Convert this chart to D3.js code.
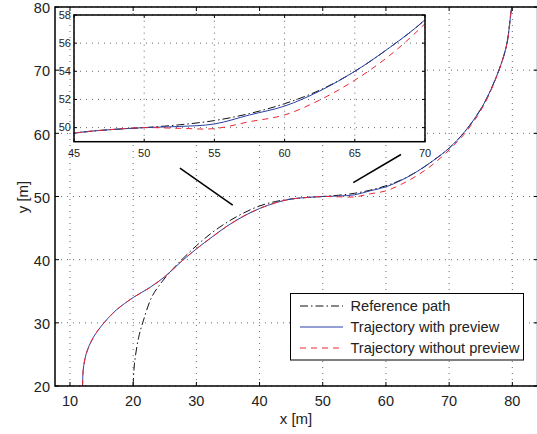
<!DOCTYPE html>
<html>
<head>
<meta charset="utf-8">
<script src="https://cdn.jsdelivr.net/npm/d3@7"></script>
<style>
  body { margin: 0; background: #fff; }
  svg { display: block; font-family: "Liberation Sans", Arial, sans-serif; }
</style>
</head>
<body>
<div id="chart"></div>
<script>
// Reference path (dash-dot)
const refX = [20, 20.2, 20.87, 21.6, 22.9, 24.25, 25.8, 27.5, 30, 32.5, 35, 37.5, 40, 42.5, 45, 47.5, 50, 52.5, 55, 57.5, 60, 62.5, 65, 67.5, 70, 72.5, 75.4, 77.8, 79.1, 79.9, 80];
const refY = [20, 23.5, 27.7, 30.3, 34.0, 36.1, 38.0, 39.8, 42.2, 44.3, 46.0, 47.4, 48.5, 49.2, 49.6, 49.85, 50.0, 50.2, 50.5, 51.0, 51.7, 52.66, 54.0, 55.7, 57.66, 60.3, 64.5, 69.8, 74.0, 79.8, 80];

// Trajectory with preview (blue solid)
const withX = [12, 12.1, 12.6, 13.7, 15.3, 17.3, 20, 22.5, 25, 27.5, 30, 32.5, 35, 37.5, 40, 42.5, 45, 47.5, 50, 52.5, 55, 57.5, 60, 62.5, 65, 67.5, 70, 72.5, 75.4, 77.8, 79.1, 79.9, 80];
const withY = [20, 22.6, 25.2, 27.7, 29.9, 32.0, 34.0, 35.5, 37.3, 39.6, 41.7, 43.6, 45.4, 46.9, 48.1, 49.0, 49.6, 49.85, 50.0, 50.08, 50.26, 50.9, 51.53, 52.6, 54.0, 55.7, 57.66, 60.3, 64.5, 69.8, 74.0, 79.8, 80];

// Trajectory without preview (red dashed)
const withoutX = withX;
const withoutY = [20, 22.6, 25.2, 27.7, 29.9, 32.0, 34.0, 35.5, 37.3, 39.6, 41.7, 43.6, 45.4, 46.9, 48.1, 49.0, 49.6, 49.85, 50.0, 49.95, 49.93, 50.42, 50.9, 51.96, 53.37, 55.14, 57.38, 60.0, 64.3, 69.7, 74.0, 79.8, 80];

const xTicks = [10, 20, 30, 40, 50, 60, 70, 80];
const yTicks = [20, 30, 40, 50, 60, 70, 80];
const insetXTicks = [45, 50, 55, 60, 65, 70];
const insetYTicks = [50, 52, 54, 56, 58];

// zoom connector lines, in data coordinates
const connectors = [
  [[27.4, 54.5], [35.75, 48.64]],
  [[54.83, 52.2], [62.38, 56.65]]
];

const legendLabels = ['Reference path', 'Trajectory with preview', 'Trajectory without preview'];

const W = 537, H = 434;
const BLUE = '#2b3fa6', RED = '#ec2632', BLACK = '#111';

const svg = d3.select('#chart').append('svg').attr('width', W).attr('height', H);

const x = d3.scaleLinear().domain([7.63, 84]).range([55, 537.6]);
const y = d3.scaleLinear().domain([20, 80]).range([386, 7]);

const zip = (xs, ys) => xs.map((v, i) => [v, ys[i]]);
const series = [
  { pts: zip(refX, refY), color: BLACK, dash: '8,3,1.5,3', w: 1 },
  { pts: zip(withX, withY), color: BLUE, dash: null, w: 1 },
  { pts: zip(withoutX, withoutY), color: RED, dash: '6,5', w: 1 }
];

function drawAxes(g, xs, ys, xt, yt, opts) {
  const [x0, x1] = xs.range();
  const [y0, y1] = ys.range();
  // grid
  xt.forEach(t => {
    g.append('line').attr('x1', xs(t)).attr('x2', xs(t)).attr('y1', y0).attr('y2', y1)
      .attr('stroke', '#444').attr('stroke-width', 0.8).attr('stroke-dasharray', '1,5');
  });
  yt.forEach(t => {
    g.append('line').attr('x1', x0).attr('x2', x1).attr('y1', ys(t)).attr('y2', ys(t))
      .attr('stroke', '#444').attr('stroke-width', 0.8).attr('stroke-dasharray', '1,5');
  });
  // ticks (inward, all sides)
  const tl = opts.tick;
  xt.forEach(t => {
    g.append('line').attr('x1', xs(t)).attr('x2', xs(t)).attr('y1', y0).attr('y2', y0 - tl).attr('stroke', '#000');
    g.append('line').attr('x1', xs(t)).attr('x2', xs(t)).attr('y1', y1).attr('y2', y1 + tl).attr('stroke', '#000');
  });
  yt.forEach(t => {
    g.append('line').attr('x1', x0).attr('x2', x0 + tl).attr('y1', ys(t)).attr('y2', ys(t)).attr('stroke', '#000');
    g.append('line').attr('x1', x1).attr('x2', x1 - tl).attr('y1', ys(t)).attr('y2', ys(t)).attr('stroke', '#000');
  });
  // labels
  xt.forEach(t => {
    g.append('text').attr('x', xs(t)).attr('y', y0 + opts.xOff)
      .attr('text-anchor', 'middle').attr('font-size', opts.fs).attr('fill', '#222').text(t);
  });
  yt.forEach(t => {
    g.append('text').attr('x', x0 - opts.yOff).attr('y', ys(t)).attr('dy', opts.dy)
      .attr('text-anchor', 'end').attr('font-size', opts.fs).attr('fill', '#222').text(t);
  });
}

// main axes
const main = svg.append('g');
drawAxes(main, x, y, xTicks, yTicks, { tick: 4, fs: 14.5, xOff: 20, yOff: 5, dy: '0.43em' });

series.forEach(s => {
  const line = d3.line().x(d => x(d[0])).y(d => y(d[1])).curve(d3.curveCatmullRom.alpha(0.5));
  main.append('path').attr('d', line(s.pts)).attr('fill', 'none')
    .attr('stroke', s.color).attr('stroke-width', s.w)
    .attr('stroke-dasharray', s.dash);
});

main.append('rect').attr('x', 55).attr('y', 7).attr('width', 537.6 - 55).attr('height', 379)
  .attr('fill', 'none').attr('stroke', '#000').attr('stroke-width', 1.5);

main.append('text').attr('x', 296).attr('y', 424).attr('text-anchor', 'middle')
  .attr('font-size', 15).attr('fill', '#222').text('x [m]');
main.append('text').attr('transform', 'translate(28,197) rotate(-90)').attr('text-anchor', 'middle')
  .attr('font-size', 15).attr('fill', '#222').text('y [m]');

// connector lines
connectors.forEach(c => {
  main.append('line').attr('x1', x(c[0][0])).attr('y1', y(c[0][1]))
    .attr('x2', x(c[1][0])).attr('y2', y(c[1][1]))
    .attr('stroke', '#000').attr('stroke-width', 1.5);
});

// legend
const lg = svg.append('g');
lg.append('rect').attr('x', 290.5).attr('y', 293.5).attr('width', 233).attr('height', 66.5)
  .attr('fill', '#fff').attr('stroke', '#000').attr('stroke-width', 1);
const rowY = [306, 327, 348];
series.forEach((s, i) => {
  lg.append('line').attr('x1', 300).attr('x2', 343).attr('y1', rowY[i]).attr('y2', rowY[i])
    .attr('stroke', s.color).attr('stroke-width', s.w).attr('stroke-dasharray', s.dash);
  lg.append('text').attr('x', 350.5).attr('y', rowY[i]).attr('dy', '0.35em')
    .attr('font-size', 14.6).attr('fill', '#222').text(legendLabels[i]);
});

// inset
const ix = d3.scaleLinear().domain([45, 70]).range([74, 425]);
const iy = d3.scaleLinear().domain([49, 58]).range([141.7, 15]);
const inset = svg.append('g');
inset.append('rect').attr('x', 74).attr('y', 15).attr('width', 351).attr('height', 126.7).attr('fill', '#fff');
svg.append('clipPath').attr('id', 'insetClip').append('rect')
  .attr('x', 74).attr('y', 15).attr('width', 351).attr('height', 126.7);
drawAxes(inset, ix, iy, insetXTicks, insetYTicks, { tick: 3, fs: 11, xOff: 15, yOff: 3, dy: '0.35em' });
series.forEach(s => {
  const line = d3.line().x(d => ix(d[0])).y(d => iy(d[1])).curve(d3.curveCatmullRom.alpha(0.5));
  inset.append('path').attr('d', line(s.pts)).attr('fill', 'none')
    .attr('clip-path', 'url(#insetClip)')
    .attr('stroke', s.color).attr('stroke-width', s.w)
    .attr('stroke-dasharray', s.dash);
});
inset.append('rect').attr('x', 74).attr('y', 15).attr('width', 351).attr('height', 126.7)
  .attr('fill', 'none').attr('stroke', '#000').attr('stroke-width', 1.5);
</script>
</body>
</html>
